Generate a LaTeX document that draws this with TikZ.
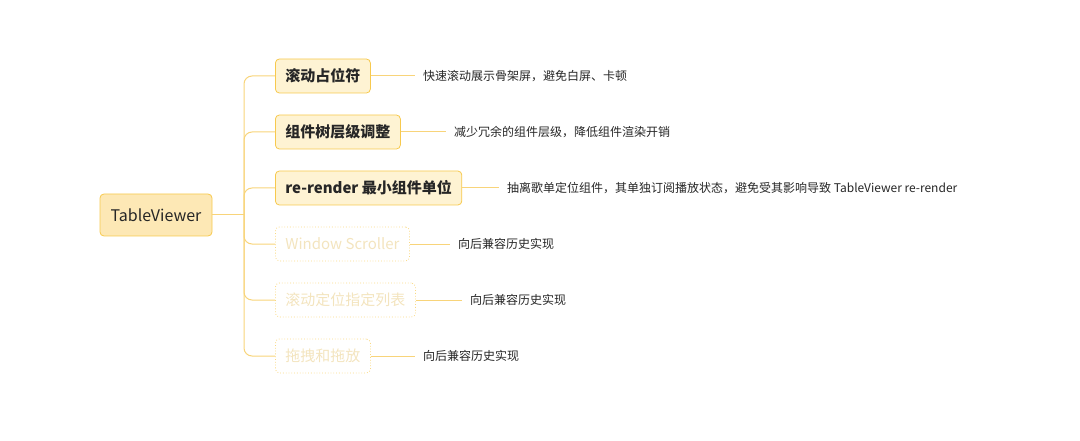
\documentclass[tikz,border=0pt]{standalone}
\usepackage{fontspec}
\setmainfont{Noto Sans CJK SC}
\definecolor{ln}{HTML}{F8D47A}
\definecolor{bd}{HTML}{F7C94E}
\definecolor{fl}{HTML}{FEF3D3}
\definecolor{rf}{HTML}{FDE8B5}
\definecolor{fd}{HTML}{F3E4BE}
\begin{document}
\begin{tikzpicture}[x=1pt,y=-1pt,
 conn/.style={draw=ln,line width=1pt},
 rootbox/.style={draw=bd,fill=rf,rounded corners=4pt,line width=0.8pt,minimum height=42pt,minimum width=112pt,font=\fontsize{16}{18}\selectfont,text=black!85},
 kid/.style={draw=bd,fill=fl,rounded corners=4pt,line width=0.8pt,minimum height=34pt,anchor=west,inner xsep=10pt,font=\fontsize{15}{17}\selectfont\bfseries,text=black!85},
 fade/.style={draw=bd!70,dotted,rounded corners=4pt,line width=0.8pt,minimum height=34pt,anchor=west,inner xsep=10pt,font=\fontsize{15}{17}\selectfont,text=fd},
 lbl/.style={anchor=west,inner sep=0pt,font=\fontsize{12}{14}\selectfont,text=black!85}]
\useasboundingbox (0,0) rectangle (1080,441);
\node[rootbox] (r) at (156,215) {TableViewer};
\coordinate (sp) at (244,215);
\node[kid] (c1) at (275,76) {滚动占位符};
\node[kid] (c2) at (275,132) {组件树层级调整};
\node[kid] (c3) at (275,188) {re-render 最小组件单位};
\node[fade] (c4) at (275,244) {Window Scroller};
\node[fade] (c5) at (275,300) {滚动定位指定列表};
\node[fade] (c6) at (275,356) {拖拽和拖放};
\node[lbl] (l1) at (423,76) {快速滚动展示骨架屏，避免白屏、卡顿};
\node[lbl] (l2) at (454,132) {减少冗余的组件层级，降低组件渲染开销};
\node[lbl] (l3) at (507,188) {抽离歌单定位组件，其单独订阅播放状态，避免受其影响导致 TableViewer re-render};
\node[lbl] (l4) at (458,244) {向后兼容历史实现};
\node[lbl] (l5) at (470,300) {向后兼容历史实现};
\node[lbl] (l6) at (423,356) {向后兼容历史实现};
\draw[conn] (r.east) -- (sp);
\foreach \i in {1,...,6}{
  \draw[conn,rounded corners=8pt] (sp) -- (sp |- c\i.west) -- (c\i.west);
  \draw[conn] (c\i.east) -- ([xshift=-8pt]l\i.west);
}
\end{tikzpicture}
\end{document}
